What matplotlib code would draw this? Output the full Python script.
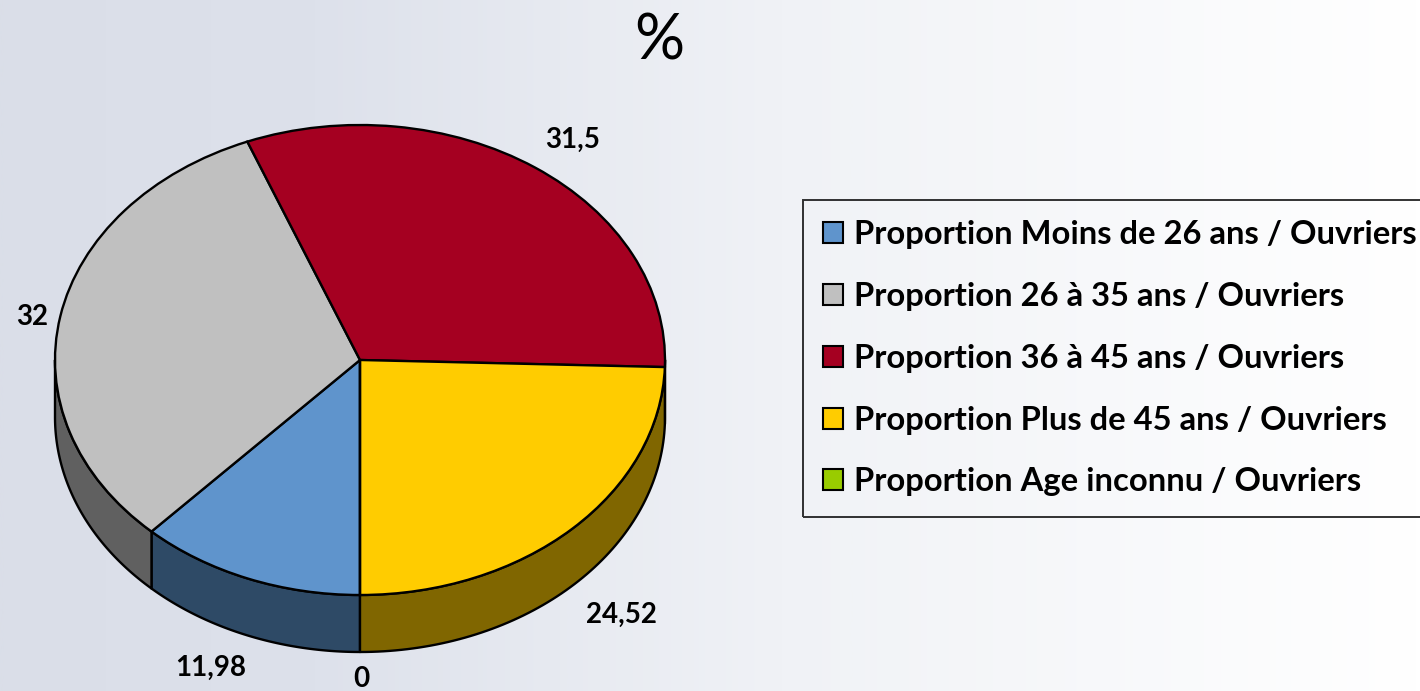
import numpy as np
import matplotlib
matplotlib.use("Agg")
import matplotlib.pyplot as plt
from matplotlib.colors import LinearSegmentedColormap
from matplotlib.patches import Patch, Polygon

W = 1420
H = 691

#chart data
categories = ["Proportion Moins de 26 ans / Ouvriers", "Proportion 26 à 35 ans / Ouvriers",
              "Proportion 36 à 45 ans / Ouvriers", "Proportion Plus de 45 ans / Ouvriers",
              "Proportion Age inconnu / Ouvriers"]
values = [11.98, 32, 31.5, 24.52, 0]
top_colors = ["#5f94cc", "#c0c0c0", "#a50021", "#ffcc00", "#99cc00"]
side_colors = ["#2e4a66", "#606060", "#520010", "#806600", "#4c6600"]
title = "%"

plt.rcParams['font.family'] = ['Lato', 'DejaVu Sans']

fig = plt.figure(figsize=(W/100, H/100), dpi=100)

#page background, left to right
bg = fig.add_axes([0, 0, 1, 1], zorder=0)
cmap = LinearSegmentedColormap.from_list("page", [(0, "#dadee8"), (0.22, "#dde1eb"), (0.55, "#f0f2f6"), (1, "#ffffff")])
bg.imshow(np.linspace(0, 1, 512).reshape(1, -1), cmap=cmap, aspect='auto', extent=[0, W, H, 0], vmin=0, vmax=1)
bg.set_xlim(0, W)
bg.set_ylim(H, 0)
bg.axis('off')

#pie ellipse spans x 55-665, y 125-595, the wall goes 57px lower
depth = 57/235
left, right, top, bottom = 55, 665, 125, 595+57
ax = fig.add_axes([left/W, 1-bottom/H, (right-left)/W, (bottom-top)/H], zorder=1)

#side walls, only the front half of the ellipse shows
total = sum(values)
start = 0
for i in range(len(values)):
    end = start + values[i]/total*360
    for a, b in [(0, 90), (270, 360)]:
        t0 = max(start, a)
        t1 = min(end, b)
        if t1 > t0:
            t = np.radians(np.linspace(t0, t1, 80))
            x = -np.sin(t)
            y = -np.cos(t)
            pts = np.column_stack([np.r_[x, x[::-1]], np.r_[y, y[::-1]-depth]])
            ax.add_patch(Polygon(pts, closed=True, facecolor=side_colors[i], edgecolor="black", lw=1.7, joinstyle='round'))
    start = end

ax.pie(values, colors=top_colors, startangle=270, counterclock=False, radius=1,
       wedgeprops={'edgecolor': 'black', 'linewidth': 1.7})
ax.set_aspect('auto')
ax.set_xlim(-1, 1)
ax.set_ylim(-1-depth, 1)
ax.axis('off')
for p in ax.patches:
    p.set_clip_on(False)

#value labels
label_pos = [(211, 668), (361, 679), (32, 317), (573, 140), (621, 615)]
label_vals = [values[0], values[4], values[1], values[2], values[3]]
for v, (lx, ly) in zip(label_vals, label_pos):
    bg.text(lx, ly, str(v).replace('.', ','), fontsize=20, fontweight='bold', ha='center', va='center', color="black")

bg.text(659, 41, title, fontsize=45, ha='center', va='center', color="black")

#legend runs off the right edge
handles = [Patch(facecolor=c, edgecolor='black', linewidth=1.5) for c in top_colors]
leg = fig.legend(handles, categories, loc='upper left', bbox_to_anchor=(803/W, 1-200/H), bbox_transform=fig.transFigure,
                 prop={'size': 23.6, 'weight': 'bold'}, frameon=True, fancybox=False, facecolor='none',
                 edgecolor='black', handlelength=0.61, handleheight=0.6, handletextpad=0.32,
                 labelspacing=1.0, borderpad=0.62, borderaxespad=0)
leg.get_frame().set_linewidth(1.4)
leg.set_zorder(3)

fig.savefig('out.png', dpi=100)
